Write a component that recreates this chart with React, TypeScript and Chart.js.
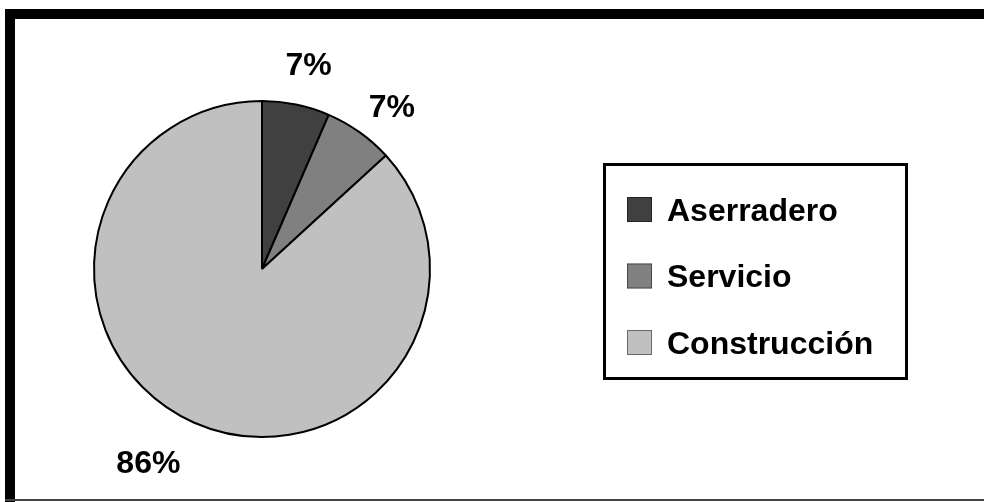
import React, { useEffect, useRef } from "react";
import { Chart, registerables } from "chart.js";

Chart.register(...registerables);

const categories = ["Aserradero", "Servicio", "Construcción"];
const shares = [6.5, 6.7, 86.8];
const percentLabels = ["7%", "7%", "86%"];
const sliceColors = ["#404040", "#808080", "#c0c0c0"];

const FONT = "bold 32px 'Liberation Sans', Arial, sans-serif";
// small nudges of the percent labels relative to their computed spot
const LABEL_NUDGE = [
  [4, 0],
  [8, 8],
  [-29, 0],
];

const framePlugin = {
  id: "frame",
  beforeDraw(chart: any) {
    const ctx = chart.ctx;
    ctx.save();
    ctx.fillStyle = "#ffffff";
    ctx.fillRect(0, 0, chart.width, chart.height);
    ctx.fillStyle = "#000000";
    ctx.fillRect(5, 9, chart.width - 5, 10);
    ctx.fillRect(5, 9, 10, chart.height - 9);
    ctx.fillStyle = "#444444";
    ctx.fillRect(5, 499, chart.width - 5, 2);
    ctx.restore();
  },
};

const labelPlugin = {
  id: "pctLabels",
  afterDatasetsDraw(chart: any) {
    const ctx = chart.ctx;
    const meta = chart.getDatasetMeta(0);
    ctx.save();
    ctx.font = FONT;
    ctx.fillStyle = "#000000";
    ctx.textAlign = "center";
    ctx.textBaseline = "alphabetic";
    meta.data.forEach((arc: any, i: number) => {
      const p = arc.getProps(["x", "y", "startAngle", "endAngle", "outerRadius"], true);
      const mid = (p.startAngle + p.endAngle) / 2;
      const dist = p.outerRadius * 1.25;
      const x = p.x + Math.cos(mid) * dist + LABEL_NUDGE[i][0];
      const y = p.y + Math.sin(mid) * dist + LABEL_NUDGE[i][1];
      ctx.fillText(percentLabels[i], x, y + 11.5);
    });
    ctx.restore();
  },
};

const legendPlugin = {
  id: "boxLegend",
  afterDraw(chart: any) {
    const ctx = chart.ctx;
    ctx.save();
    ctx.strokeStyle = "#000000";
    ctx.lineWidth = 3;
    ctx.strokeRect(604.5, 164.5, 302, 214);
    ctx.font = FONT;
    ctx.textAlign = "left";
    ctx.textBaseline = "alphabetic";
    const labels: string[] = chart.data.labels;
    const colors: string[] = chart.data.datasets[0].backgroundColor;
    labels.forEach((lab, i) => {
      const cy = 209 + i * 66.5;
      ctx.fillStyle = colors[i];
      ctx.fillRect(627, cy - 12, 25, 25);
      ctx.lineWidth = 1;
      ctx.strokeStyle = "rgba(0,0,0,0.45)";
      ctx.strokeRect(627.5, cy - 11.5, 24, 24);
      ctx.fillStyle = "#000000";
      ctx.fillText(lab, 667, cy + 11.5);
    });
    ctx.restore();
  },
};

export default function App() {
  const ref = useRef<HTMLCanvasElement | null>(null);
  useEffect(() => {
    if (!ref.current) return;
    const chart = new Chart(ref.current, {
      type: "pie",
      data: {
        labels: categories,
        datasets: [
          {
            data: shares,
            backgroundColor: sliceColors,
            borderColor: "#000000",
            borderWidth: 2,
          },
        ],
      },
      options: {
        responsive: false,
        animation: false,
        layout: { padding: { left: 93, right: 553, top: 100, bottom: 64 } },
        plugins: {
          legend: { display: false },
          tooltip: { enabled: false },
          title: { display: false },
        },
      },
      plugins: [framePlugin, labelPlugin, legendPlugin],
    });
    return () => chart.destroy();
  }, []);
  return (
    <div
      style={{
        position: "fixed",
        left: 0,
        top: 0,
        width: 984,
        height: 502,
        background: "#ffffff",
      }}
    >
      <canvas ref={ref} width={984} height={502} style={{ width: 984, height: 502, display: "block" }} />
    </div>
  );
}
